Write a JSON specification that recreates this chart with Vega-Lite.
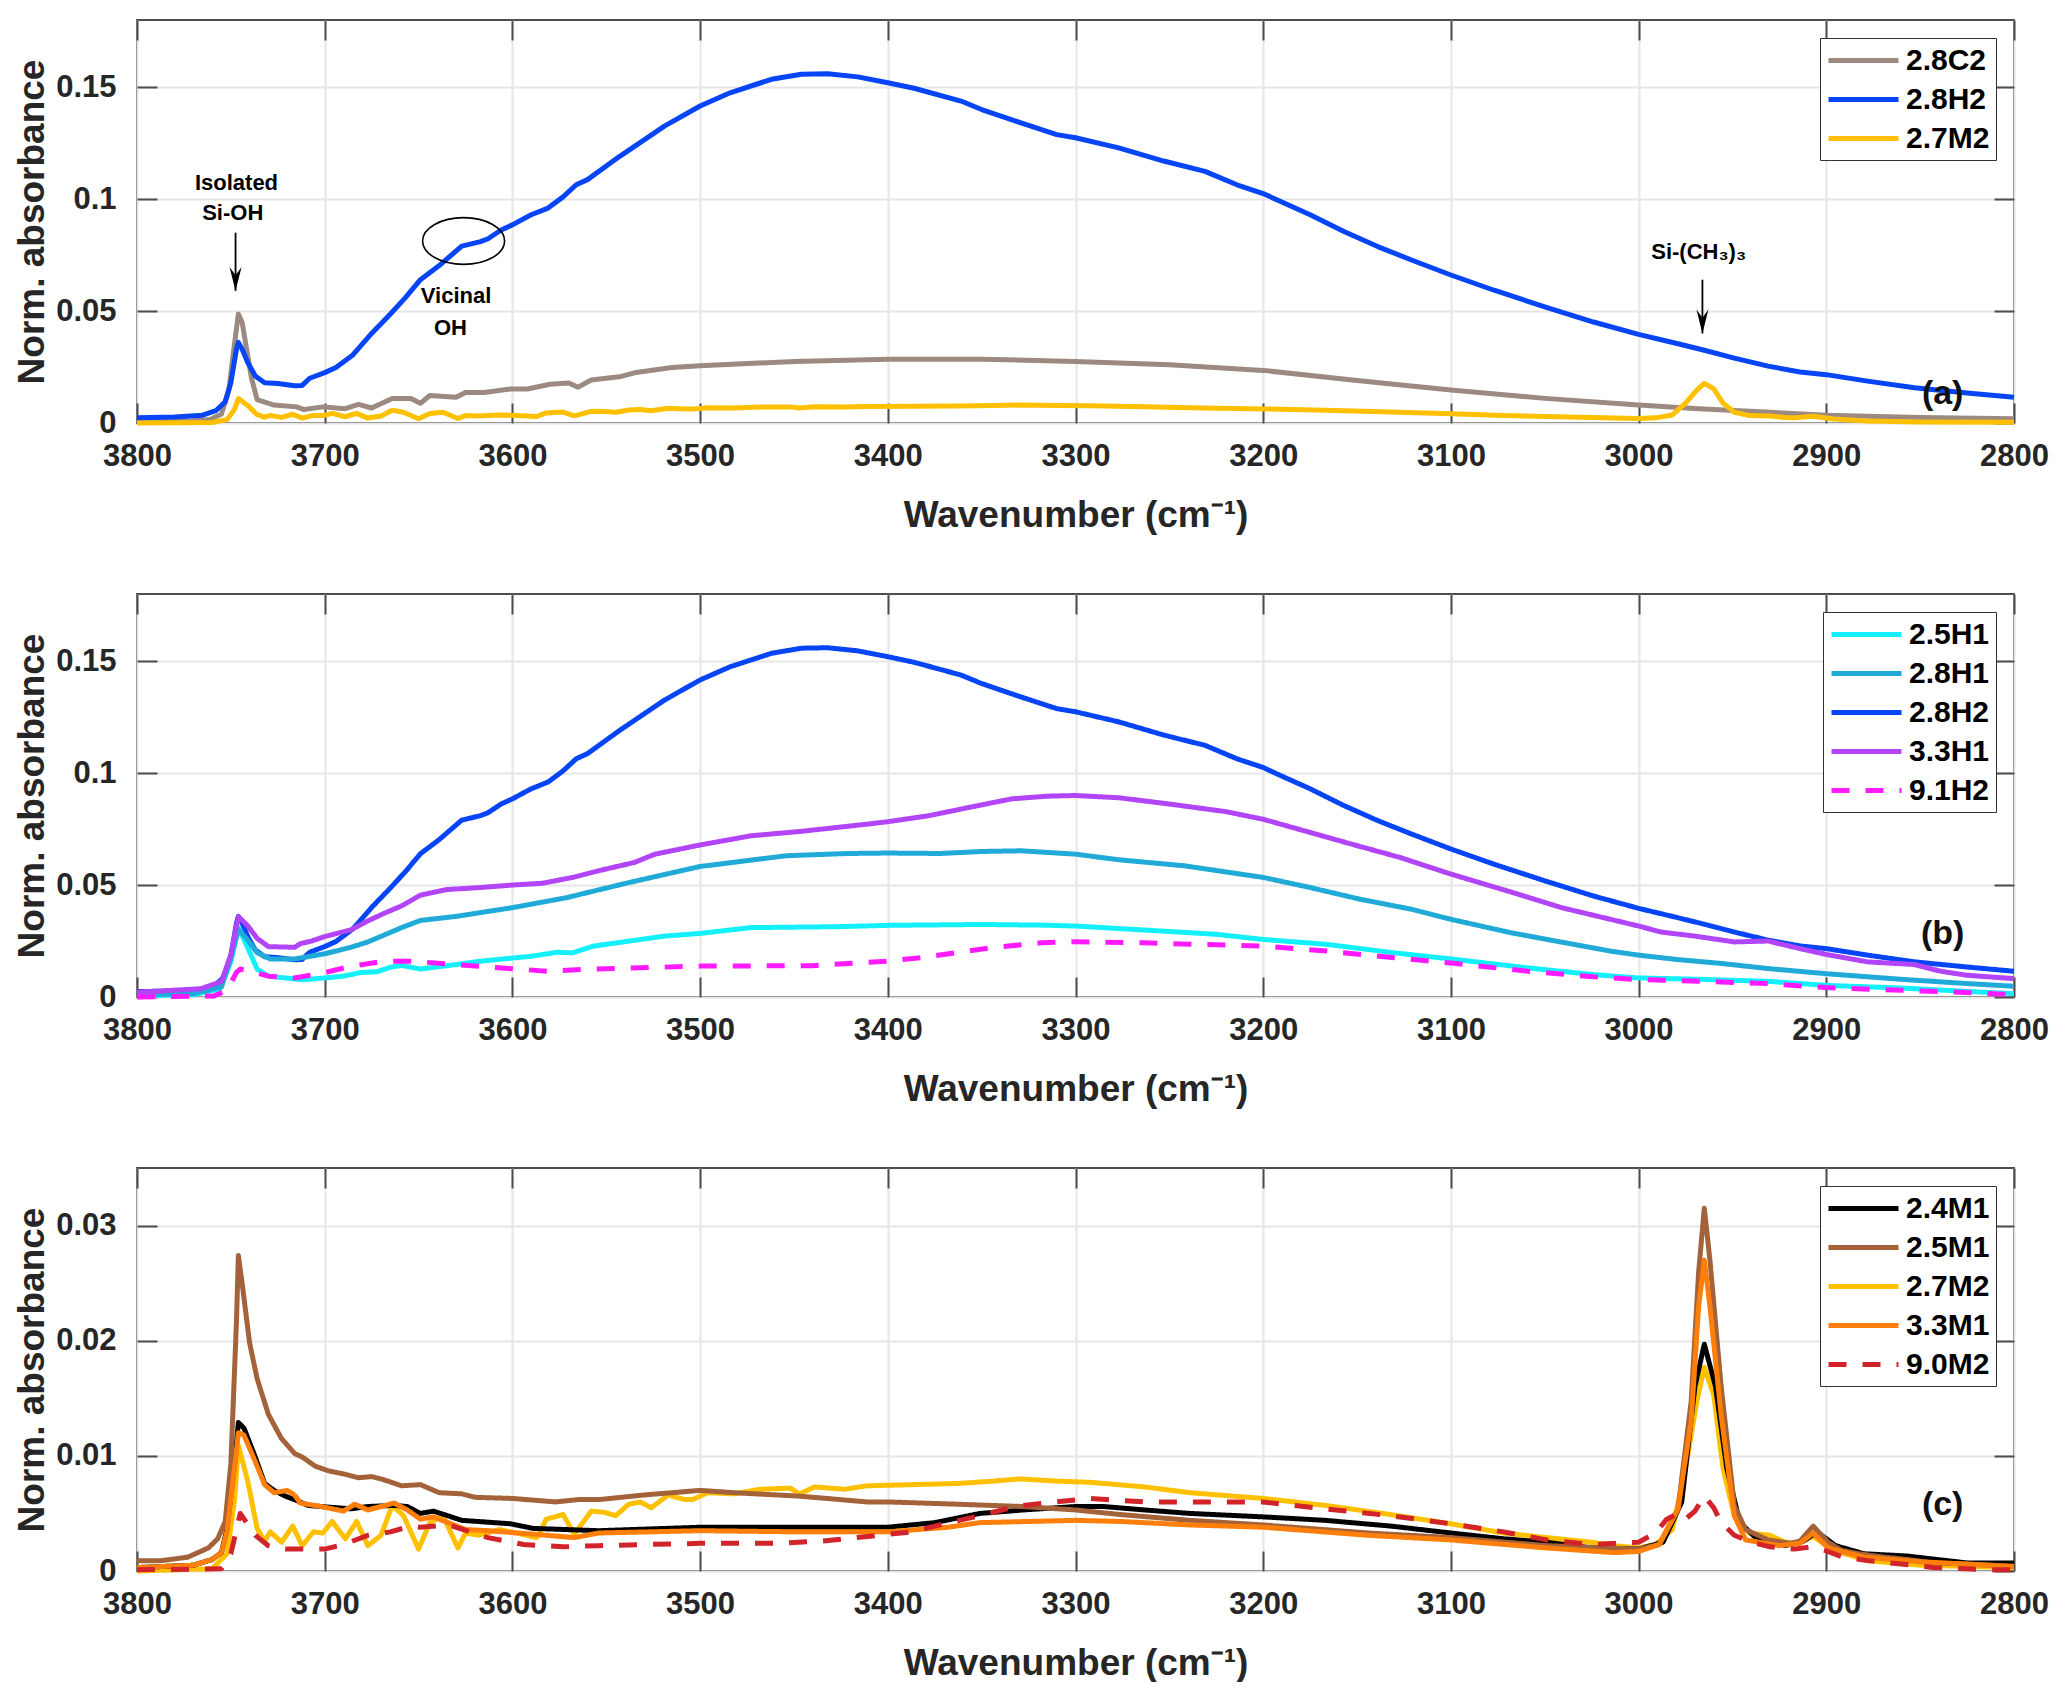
{
  "$schema": "https://vega.github.io/schema/vega-lite/v6.json",
  "background": "white",
  "padding": {"left": 12, "top": 18, "right": 0, "bottom": 0},
  "spacing": 171,
  "bounds": "flush",
  "config": {
    "font": "Liberation Sans",
    "view": {"stroke": "#4d4d4d", "strokeWidth": 2},
    "axis": {
      "domain": false,
      "labelFlush": false,
      "labelFont": "Liberation Sans",
      "labelFontSize": 31,
      "labelFontWeight": "bold",
      "labelColor": "#262626",
      "titleFont": "Liberation Sans",
      "titleFontSize": 37,
      "titleFontWeight": "bold",
      "titleColor": "#262626",
      "tickColor": "#4d4d4d",
      "tickWidth": 2,
      "tickSize": -20,
      "gridColor": "#e6e6e6",
      "gridWidth": 2
    },
    "axisX": {"labelPadding": 38, "titlePadding": 26},
    "axisY": {"labelPadding": 41, "titlePadding": 4},
    "legend": {
      "orient": "top-right",
      "offset": 18,
      "strokeColor": "#333333",
      "fillColor": "white",
      "padding": 6,
      "rowPadding": 7,
      "labelFont": "Liberation Sans",
      "labelFontSize": 30,
      "labelFontWeight": "bold",
      "labelColor": "#000000",
      "symbolType": "M -1 0 H 4",
      "symbolSize": 784,
      "symbolStrokeWidth": 5,
      "labelOffset": 47
    }
  },
  "datasets": {
    "spectra": [
      {"s":"2.8C2","w":3800,"a":0.0004},{"s":"2.8C2","w":3770,"a":0.001},{"s":"2.8C2","w":3761,"a":0.0016},{"s":"2.8C2","w":3755,"a":0.004},{"s":"2.8C2","w":3751,"a":0.015},{"s":"2.8C2","w":3749,"a":0.029},{"s":"2.8C2","w":3746,"a":0.0487},{"s":"2.8C2","w":3744,"a":0.045},{"s":"2.8C2","w":3742,"a":0.035},{"s":"2.8C2","w":3739,"a":0.02},{"s":"2.8C2","w":3736,"a":0.0104},{"s":"2.8C2","w":3727,"a":0.008},{"s":"2.8C2","w":3715,"a":0.0072},{"s":"2.8C2","w":3711,"a":0.006},{"s":"2.8C2","w":3701,"a":0.0072},{"s":"2.8C2","w":3689,"a":0.0064},{"s":"2.8C2","w":3682,"a":0.0083},{"s":"2.8C2","w":3675,"a":0.0067},{"s":"2.8C2","w":3664,"a":0.0109},{"s":"2.8C2","w":3654,"a":0.0109},{"s":"2.8C2","w":3649,"a":0.0088},{"s":"2.8C2","w":3644,"a":0.0123},{"s":"2.8C2","w":3630,"a":0.0115},{"s":"2.8C2","w":3625,"a":0.0136},{"s":"2.8C2","w":3615,"a":0.0136},{"s":"2.8C2","w":3601,"a":0.0152},{"s":"2.8C2","w":3592,"a":0.0152},{"s":"2.8C2","w":3580,"a":0.0173},{"s":"2.8C2","w":3570,"a":0.0179},{"s":"2.8C2","w":3565,"a":0.016},{"s":"2.8C2","w":3558,"a":0.0192},{"s":"2.8C2","w":3542,"a":0.0208},{"s":"2.8C2","w":3535,"a":0.0224},{"s":"2.8C2","w":3515,"a":0.0248},{"s":"2.8C2","w":3500,"a":0.0256},{"s":"2.8C2","w":3450,"a":0.0275},{"s":"2.8C2","w":3400,"a":0.0285},{"s":"2.8C2","w":3350,"a":0.0285},{"s":"2.8C2","w":3300,"a":0.0275},{"s":"2.8C2","w":3250,"a":0.026},{"s":"2.8C2","w":3200,"a":0.0235},{"s":"2.8C2","w":3150,"a":0.019},{"s":"2.8C2","w":3100,"a":0.0147},{"s":"2.8C2","w":3050,"a":0.011},{"s":"2.8C2","w":3000,"a":0.008},{"s":"2.8C2","w":2968,"a":0.0064},{"s":"2.8C2","w":2930,"a":0.0048},{"s":"2.8C2","w":2900,"a":0.0035},{"s":"2.8C2","w":2850,"a":0.0025},{"s":"2.8C2","w":2800,"a":0.0019},

      {"s":"2.8H2","w":3800,"a":0.0024},{"s":"2.8H2","w":3780,"a":0.0027},{"s":"2.8H2","w":3765,"a":0.0035},{"s":"2.8H2","w":3758,"a":0.0055},{"s":"2.8H2","w":3753,"a":0.0095},{"s":"2.8H2","w":3750,"a":0.018},{"s":"2.8H2","w":3747,"a":0.033},{"s":"2.8H2","w":3746,"a":0.036},{"s":"2.8H2","w":3744,"a":0.033},{"s":"2.8H2","w":3741,"a":0.027},{"s":"2.8H2","w":3737,"a":0.021},{"s":"2.8H2","w":3732,"a":0.018},{"s":"2.8H2","w":3725,"a":0.0176},{"s":"2.8H2","w":3716,"a":0.0166},{"s":"2.8H2","w":3712,"a":0.0168},{"s":"2.8H2","w":3708,"a":0.02},{"s":"2.8H2","w":3700,"a":0.0225},{"s":"2.8H2","w":3694,"a":0.0248},{"s":"2.8H2","w":3685,"a":0.0304},{"s":"2.8H2","w":3675,"a":0.04},{"s":"2.8H2","w":3665,"a":0.0487},{"s":"2.8H2","w":3657,"a":0.056},{"s":"2.8H2","w":3649,"a":0.064},{"s":"2.8H2","w":3639,"a":0.0703},{"s":"2.8H2","w":3627,"a":0.079},{"s":"2.8H2","w":3617,"a":0.081},{"s":"2.8H2","w":3613,"a":0.0823},{"s":"2.8H2","w":3606,"a":0.0862},{"s":"2.8H2","w":3600,"a":0.0885},{"s":"2.8H2","w":3590,"a":0.093},{"s":"2.8H2","w":3581,"a":0.096},{"s":"2.8H2","w":3573,"a":0.101},{"s":"2.8H2","w":3566,"a":0.1064},{"s":"2.8H2","w":3560,"a":0.1087},{"s":"2.8H2","w":3543,"a":0.119},{"s":"2.8H2","w":3519,"a":0.1326},{"s":"2.8H2","w":3500,"a":0.1416},{"s":"2.8H2","w":3484,"a":0.1475},{"s":"2.8H2","w":3462,"a":0.1535},{"s":"2.8H2","w":3446,"a":0.1558},{"s":"2.8H2","w":3432,"a":0.156},{"s":"2.8H2","w":3416,"a":0.1546},{"s":"2.8H2","w":3400,"a":0.152},{"s":"2.8H2","w":3386,"a":0.1495},{"s":"2.8H2","w":3361,"a":0.1438},{"s":"2.8H2","w":3350,"a":0.14},{"s":"2.8H2","w":3329,"a":0.134},{"s":"2.8H2","w":3310,"a":0.1288},{"s":"2.8H2","w":3300,"a":0.1274},{"s":"2.8H2","w":3277,"a":0.1229},{"s":"2.8H2","w":3253,"a":0.117},{"s":"2.8H2","w":3231,"a":0.1124},{"s":"2.8H2","w":3214,"a":0.1064},{"s":"2.8H2","w":3200,"a":0.1025},{"s":"2.8H2","w":3191,"a":0.099},{"s":"2.8H2","w":3175,"a":0.093},{"s":"2.8H2","w":3157,"a":0.0855},{"s":"2.8H2","w":3139,"a":0.0788},{"s":"2.8H2","w":3121,"a":0.0728},{"s":"2.8H2","w":3100,"a":0.0661},{"s":"2.8H2","w":3077,"a":0.0593},{"s":"2.8H2","w":3050,"a":0.0519},{"s":"2.8H2","w":3024,"a":0.0451},{"s":"2.8H2","w":3000,"a":0.0396},{"s":"2.8H2","w":2979,"a":0.0354},{"s":"2.8H2","w":2965,"a":0.0325},{"s":"2.8H2","w":2949,"a":0.029},{"s":"2.8H2","w":2931,"a":0.0254},{"s":"2.8H2","w":2914,"a":0.0228},{"s":"2.8H2","w":2900,"a":0.0216},{"s":"2.8H2","w":2878,"a":0.0187},{"s":"2.8H2","w":2853,"a":0.0157},{"s":"2.8H2","w":2825,"a":0.0134},{"s":"2.8H2","w":2800,"a":0.0115},

      {"s":"2.7M2","w":3800,"a":0},{"s":"2.7M2","w":3760,"a":0.0002},{"s":"2.7M2","w":3752,"a":0.0015},{"s":"2.7M2","w":3748,"a":0.0062},{"s":"2.7M2","w":3746,"a":0.0109},{"s":"2.7M2","w":3741,"a":0.0078},{"s":"2.7M2","w":3736,"a":0.0037},{"s":"2.7M2","w":3732,"a":0.0026},{"s":"2.7M2","w":3729,"a":0.0034},{"s":"2.7M2","w":3723,"a":0.0025},{"s":"2.7M2","w":3717,"a":0.0039},{"s":"2.7M2","w":3712,"a":0.0022},{"s":"2.7M2","w":3706,"a":0.0034},{"s":"2.7M2","w":3701,"a":0.0033},{"s":"2.7M2","w":3696,"a":0.0043},{"s":"2.7M2","w":3689,"a":0.0028},{"s":"2.7M2","w":3683,"a":0.0043},{"s":"2.7M2","w":3677,"a":0.0022},{"s":"2.7M2","w":3670,"a":0.0031},{"s":"2.7M2","w":3664,"a":0.0057},{"s":"2.7M2","w":3658,"a":0.0048},{"s":"2.7M2","w":3650,"a":0.0019},{"s":"2.7M2","w":3644,"a":0.0042},{"s":"2.7M2","w":3637,"a":0.0048},{"s":"2.7M2","w":3629,"a":0.002},{"s":"2.7M2","w":3625,"a":0.0033},{"s":"2.7M2","w":3618,"a":0.0031},{"s":"2.7M2","w":3607,"a":0.0036},{"s":"2.7M2","w":3598,"a":0.0033},{"s":"2.7M2","w":3587,"a":0.0029},{"s":"2.7M2","w":3582,"a":0.0045},{"s":"2.7M2","w":3573,"a":0.0049},{"s":"2.7M2","w":3567,"a":0.0032},{"s":"2.7M2","w":3558,"a":0.0052},{"s":"2.7M2","w":3551,"a":0.0051},{"s":"2.7M2","w":3545,"a":0.0048},{"s":"2.7M2","w":3538,"a":0.0058},{"s":"2.7M2","w":3532,"a":0.006},{"s":"2.7M2","w":3526,"a":0.0055},{"s":"2.7M2","w":3517,"a":0.0066},{"s":"2.7M2","w":3508,"a":0.0062},{"s":"2.7M2","w":3504,"a":0.0062},{"s":"2.7M2","w":3496,"a":0.0068},{"s":"2.7M2","w":3482,"a":0.0067},{"s":"2.7M2","w":3468,"a":0.0071},{"s":"2.7M2","w":3452,"a":0.0072},{"s":"2.7M2","w":3447,"a":0.0067},{"s":"2.7M2","w":3439,"a":0.0073},{"s":"2.7M2","w":3423,"a":0.0071},{"s":"2.7M2","w":3411,"a":0.0074},{"s":"2.7M2","w":3387,"a":0.0075},{"s":"2.7M2","w":3363,"a":0.0076},{"s":"2.7M2","w":3344,"a":0.0078},{"s":"2.7M2","w":3330,"a":0.008},{"s":"2.7M2","w":3309,"a":0.0078},{"s":"2.7M2","w":3292,"a":0.0077},{"s":"2.7M2","w":3263,"a":0.0073},{"s":"2.7M2","w":3239,"a":0.0068},{"s":"2.7M2","w":3200,"a":0.0063},{"s":"2.7M2","w":3167,"a":0.0057},{"s":"2.7M2","w":3132,"a":0.0049},{"s":"2.7M2","w":3100,"a":0.0041},{"s":"2.7M2","w":3072,"a":0.0033},{"s":"2.7M2","w":3049,"a":0.0029},{"s":"2.7M2","w":3025,"a":0.0025},{"s":"2.7M2","w":3013,"a":0.0022},{"s":"2.7M2","w":3000,"a":0.002},{"s":"2.7M2","w":2991,"a":0.0023},{"s":"2.7M2","w":2982,"a":0.0036},{"s":"2.7M2","w":2975,"a":0.0089},{"s":"2.7M2","w":2969,"a":0.0147},{"s":"2.7M2","w":2965,"a":0.0177},{"s":"2.7M2","w":2960,"a":0.0153},{"s":"2.7M2","w":2955,"a":0.0089},{"s":"2.7M2","w":2949,"a":0.0048},{"s":"2.7M2","w":2941,"a":0.0033},{"s":"2.7M2","w":2930,"a":0.0031},{"s":"2.7M2","w":2922,"a":0.0025},{"s":"2.7M2","w":2916,"a":0.0024},{"s":"2.7M2","w":2907,"a":0.003},{"s":"2.7M2","w":2896,"a":0.0018},{"s":"2.7M2","w":2878,"a":0.0009},{"s":"2.7M2","w":2850,"a":0.0005},{"s":"2.7M2","w":2800,"a":0.0003},

      {"s":"2.5H1","w":3800,"a":0.0005},{"s":"2.5H1","w":3770,"a":0.001},{"s":"2.5H1","w":3756,"a":0.0037},{"s":"2.5H1","w":3750,"a":0.0158},{"s":"2.5H1","w":3746,"a":0.031},{"s":"2.5H1","w":3741,"a":0.022},{"s":"2.5H1","w":3736,"a":0.0125},{"s":"2.5H1","w":3730,"a":0.0093},{"s":"2.5H1","w":3721,"a":0.0085},{"s":"2.5H1","w":3712,"a":0.0077},{"s":"2.5H1","w":3700,"a":0.0085},{"s":"2.5H1","w":3690,"a":0.0093},{"s":"2.5H1","w":3681,"a":0.0109},{"s":"2.5H1","w":3672,"a":0.0113},{"s":"2.5H1","w":3665,"a":0.0133},{"s":"2.5H1","w":3659,"a":0.0141},{"s":"2.5H1","w":3649,"a":0.0125},{"s":"2.5H1","w":3630,"a":0.0145},{"s":"2.5H1","w":3617,"a":0.016},{"s":"2.5H1","w":3590,"a":0.0182},{"s":"2.5H1","w":3576,"a":0.02},{"s":"2.5H1","w":3568,"a":0.0197},{"s":"2.5H1","w":3557,"a":0.0227},{"s":"2.5H1","w":3519,"a":0.0272},{"s":"2.5H1","w":3500,"a":0.0284},{"s":"2.5H1","w":3473,"a":0.031},{"s":"2.5H1","w":3427,"a":0.0314},{"s":"2.5H1","w":3400,"a":0.032},{"s":"2.5H1","w":3350,"a":0.0324},{"s":"2.5H1","w":3318,"a":0.0321},{"s":"2.5H1","w":3300,"a":0.0317},{"s":"2.5H1","w":3263,"a":0.0299},{"s":"2.5H1","w":3225,"a":0.028},{"s":"2.5H1","w":3200,"a":0.0257},{"s":"2.5H1","w":3166,"a":0.0235},{"s":"2.5H1","w":3130,"a":0.0197},{"s":"2.5H1","w":3100,"a":0.017},{"s":"2.5H1","w":3059,"a":0.013},{"s":"2.5H1","w":3024,"a":0.01},{"s":"2.5H1","w":3000,"a":0.0085},{"s":"2.5H1","w":2967,"a":0.0079},{"s":"2.5H1","w":2931,"a":0.007},{"s":"2.5H1","w":2900,"a":0.0052},{"s":"2.5H1","w":2860,"a":0.004},{"s":"2.5H1","w":2825,"a":0.0025},{"s":"2.5H1","w":2800,"a":0.0015},

      {"s":"2.8H1","w":3800,"a":0.001},{"s":"2.8H1","w":3770,"a":0.0015},{"s":"2.8H1","w":3755,"a":0.0045},{"s":"2.8H1","w":3750,"a":0.0174},{"s":"2.8H1","w":3746,"a":0.0302},{"s":"2.8H1","w":3741,"a":0.0254},{"s":"2.8H1","w":3736,"a":0.0198},{"s":"2.8H1","w":3729,"a":0.017},{"s":"2.8H1","w":3716,"a":0.017},{"s":"2.8H1","w":3700,"a":0.0193},{"s":"2.8H1","w":3686,"a":0.0222},{"s":"2.8H1","w":3677,"a":0.0246},{"s":"2.8H1","w":3668,"a":0.0278},{"s":"2.8H1","w":3659,"a":0.031},{"s":"2.8H1","w":3649,"a":0.0342},{"s":"2.8H1","w":3630,"a":0.036},{"s":"2.8H1","w":3617,"a":0.0377},{"s":"2.8H1","w":3600,"a":0.0399},{"s":"2.8H1","w":3571,"a":0.0444},{"s":"2.8H1","w":3538,"a":0.0511},{"s":"2.8H1","w":3500,"a":0.0583},{"s":"2.8H1","w":3454,"a":0.0631},{"s":"2.8H1","w":3421,"a":0.0641},{"s":"2.8H1","w":3400,"a":0.0643},{"s":"2.8H1","w":3372,"a":0.0641},{"s":"2.8H1","w":3350,"a":0.065},{"s":"2.8H1","w":3329,"a":0.0653},{"s":"2.8H1","w":3300,"a":0.0638},{"s":"2.8H1","w":3277,"a":0.0613},{"s":"2.8H1","w":3242,"a":0.0586},{"s":"2.8H1","w":3200,"a":0.0534},{"s":"2.8H1","w":3175,"a":0.0489},{"s":"2.8H1","w":3148,"a":0.0436},{"s":"2.8H1","w":3121,"a":0.0392},{"s":"2.8H1","w":3100,"a":0.0347},{"s":"2.8H1","w":3068,"a":0.0287},{"s":"2.8H1","w":3041,"a":0.0245},{"s":"2.8H1","w":3015,"a":0.0205},{"s":"2.8H1","w":3000,"a":0.0187},{"s":"2.8H1","w":2979,"a":0.0167},{"s":"2.8H1","w":2956,"a":0.015},{"s":"2.8H1","w":2931,"a":0.0127},{"s":"2.8H1","w":2900,"a":0.0104},{"s":"2.8H1","w":2860,"a":0.0079},{"s":"2.8H1","w":2825,"a":0.006},{"s":"2.8H1","w":2800,"a":0.0048},

      {"s":"3.3H1","w":3800,"a":0.0021},{"s":"3.3H1","w":3766,"a":0.0037},{"s":"3.3H1","w":3755,"a":0.0069},{"s":"3.3H1","w":3750,"a":0.019},{"s":"3.3H1","w":3746,"a":0.0359},{"s":"3.3H1","w":3741,"a":0.0318},{"s":"3.3H1","w":3736,"a":0.0262},{"s":"3.3H1","w":3730,"a":0.0225},{"s":"3.3H1","w":3716,"a":0.0222},{"s":"3.3H1","w":3713,"a":0.0238},{"s":"3.3H1","w":3707,"a":0.025},{"s":"3.3H1","w":3700,"a":0.027},{"s":"3.3H1","w":3686,"a":0.03},{"s":"3.3H1","w":3677,"a":0.034},{"s":"3.3H1","w":3668,"a":0.0375},{"s":"3.3H1","w":3659,"a":0.0407},{"s":"3.3H1","w":3649,"a":0.0455},{"s":"3.3H1","w":3635,"a":0.048},{"s":"3.3H1","w":3617,"a":0.0489},{"s":"3.3H1","w":3600,"a":0.05},{"s":"3.3H1","w":3584,"a":0.0508},{"s":"3.3H1","w":3568,"a":0.0534},{"s":"3.3H1","w":3554,"a":0.0564},{"s":"3.3H1","w":3535,"a":0.0601},{"s":"3.3H1","w":3524,"a":0.0638},{"s":"3.3H1","w":3500,"a":0.0679},{"s":"3.3H1","w":3473,"a":0.072},{"s":"3.3H1","w":3446,"a":0.074},{"s":"3.3H1","w":3410,"a":0.0773},{"s":"3.3H1","w":3400,"a":0.0783},{"s":"3.3H1","w":3378,"a":0.081},{"s":"3.3H1","w":3356,"a":0.0848},{"s":"3.3H1","w":3334,"a":0.0885},{"s":"3.3H1","w":3315,"a":0.0897},{"s":"3.3H1","w":3300,"a":0.09},{"s":"3.3H1","w":3277,"a":0.089},{"s":"3.3H1","w":3250,"a":0.0862},{"s":"3.3H1","w":3220,"a":0.0828},{"s":"3.3H1","w":3200,"a":0.0794},{"s":"3.3H1","w":3175,"a":0.0735},{"s":"3.3H1","w":3153,"a":0.0683},{"s":"3.3H1","w":3127,"a":0.0623},{"s":"3.3H1","w":3100,"a":0.0549},{"s":"3.3H1","w":3068,"a":0.0469},{"s":"3.3H1","w":3041,"a":0.0399},{"s":"3.3H1","w":3015,"a":0.0347},{"s":"3.3H1","w":3000,"a":0.0317},{"s":"3.3H1","w":2988,"a":0.029},{"s":"3.3H1","w":2970,"a":0.0272},{"s":"3.3H1","w":2949,"a":0.0246},{"s":"3.3H1","w":2931,"a":0.025},{"s":"3.3H1","w":2914,"a":0.0216},{"s":"3.3H1","w":2900,"a":0.019},{"s":"3.3H1","w":2878,"a":0.0157},{"s":"3.3H1","w":2853,"a":0.0145},{"s":"3.3H1","w":2839,"a":0.0115},{"s":"3.3H1","w":2825,"a":0.0097},{"s":"3.3H1","w":2800,"a":0.0082},

      {"s":"9.1H2","w":3800,"a":0},{"s":"9.1H2","w":3759,"a":0.0005},{"s":"9.1H2","w":3752,"a":0.003},{"s":"9.1H2","w":3747,"a":0.011},{"s":"9.1H2","w":3745,"a":0.0125},{"s":"9.1H2","w":3737,"a":0.0109},{"s":"9.1H2","w":3730,"a":0.0093},{"s":"9.1H2","w":3716,"a":0.0085},{"s":"9.1H2","w":3700,"a":0.0109},{"s":"9.1H2","w":3686,"a":0.0137},{"s":"9.1H2","w":3668,"a":0.016},{"s":"9.1H2","w":3654,"a":0.016},{"s":"9.1H2","w":3630,"a":0.0145},{"s":"9.1H2","w":3606,"a":0.013},{"s":"9.1H2","w":3581,"a":0.0115},{"s":"9.1H2","w":3562,"a":0.0123},{"s":"9.1H2","w":3500,"a":0.0138},{"s":"9.1H2","w":3440,"a":0.014},{"s":"9.1H2","w":3400,"a":0.016},{"s":"9.1H2","w":3380,"a":0.0178},{"s":"9.1H2","w":3345,"a":0.022},{"s":"9.1H2","w":3318,"a":0.0242},{"s":"9.1H2","w":3300,"a":0.0247},{"s":"9.1H2","w":3263,"a":0.0242},{"s":"9.1H2","w":3200,"a":0.0227},{"s":"9.1H2","w":3166,"a":0.0205},{"s":"9.1H2","w":3130,"a":0.0175},{"s":"9.1H2","w":3100,"a":0.0152},{"s":"9.1H2","w":3059,"a":0.0115},{"s":"9.1H2","w":3024,"a":0.009},{"s":"9.1H2","w":3000,"a":0.0078},{"s":"9.1H2","w":2967,"a":0.007},{"s":"9.1H2","w":2931,"a":0.006},{"s":"9.1H2","w":2900,"a":0.0042},{"s":"9.1H2","w":2860,"a":0.003},{"s":"9.1H2","w":2825,"a":0.002},{"s":"9.1H2","w":2800,"a":0.001},

      {"s":"2.4M1","w":3800,"a":0.0003},{"s":"2.4M1","w":3770,"a":0.0005},{"s":"2.4M1","w":3760,"a":0.001},{"s":"2.4M1","w":3755,"a":0.0016},{"s":"2.4M1","w":3752,"a":0.0037},{"s":"2.4M1","w":3748,"a":0.0093},{"s":"2.4M1","w":3746,"a":0.0129},{"s":"2.4M1","w":3743,"a":0.0124},{"s":"2.4M1","w":3737,"a":0.0099},{"s":"2.4M1","w":3732,"a":0.0076},{"s":"2.4M1","w":3727,"a":0.007},{"s":"2.4M1","w":3721,"a":0.0065},{"s":"2.4M1","w":3716,"a":0.0062},{"s":"2.4M1","w":3709,"a":0.0057},{"s":"2.4M1","w":3702,"a":0.0056},{"s":"2.4M1","w":3686,"a":0.0054},{"s":"2.4M1","w":3677,"a":0.0056},{"s":"2.4M1","w":3663,"a":0.0057},{"s":"2.4M1","w":3656,"a":0.0056},{"s":"2.4M1","w":3649,"a":0.005},{"s":"2.4M1","w":3642,"a":0.0052},{"s":"2.4M1","w":3627,"a":0.0044},{"s":"2.4M1","w":3601,"a":0.0041},{"s":"2.4M1","w":3589,"a":0.0037},{"s":"2.4M1","w":3554,"a":0.0035},{"s":"2.4M1","w":3500,"a":0.0038},{"s":"2.4M1","w":3400,"a":0.0038},{"s":"2.4M1","w":3375,"a":0.0042},{"s":"2.4M1","w":3351,"a":0.005},{"s":"2.4M1","w":3328,"a":0.0053},{"s":"2.4M1","w":3300,"a":0.0056},{"s":"2.4M1","w":3285,"a":0.0056},{"s":"2.4M1","w":3263,"a":0.0053},{"s":"2.4M1","w":3239,"a":0.005},{"s":"2.4M1","w":3200,"a":0.0047},{"s":"2.4M1","w":3167,"a":0.0044},{"s":"2.4M1","w":3132,"a":0.0039},{"s":"2.4M1","w":3100,"a":0.0033},{"s":"2.4M1","w":3072,"a":0.0028},{"s":"2.4M1","w":3049,"a":0.0025},{"s":"2.4M1","w":3025,"a":0.002},{"s":"2.4M1","w":3000,"a":0.0019},{"s":"2.4M1","w":2987,"a":0.0025},{"s":"2.4M1","w":2977,"a":0.006},{"s":"2.4M1","w":2970,"a":0.016},{"s":"2.4M1","w":2965,"a":0.0197},{"s":"2.4M1","w":2959,"a":0.016},{"s":"2.4M1","w":2953,"a":0.0089},{"s":"2.4M1","w":2946,"a":0.0042},{"s":"2.4M1","w":2937,"a":0.0028},{"s":"2.4M1","w":2922,"a":0.0022},{"s":"2.4M1","w":2912,"a":0.0026},{"s":"2.4M1","w":2905,"a":0.0034},{"s":"2.4M1","w":2895,"a":0.0022},{"s":"2.4M1","w":2880,"a":0.0015},{"s":"2.4M1","w":2857,"a":0.0013},{"s":"2.4M1","w":2825,"a":0.0007},{"s":"2.4M1","w":2800,"a":0.0007},

      {"s":"2.5M1","w":3800,"a":0.0009},{"s":"2.5M1","w":3787,"a":0.0009},{"s":"2.5M1","w":3773,"a":0.0012},{"s":"2.5M1","w":3762,"a":0.002},{"s":"2.5M1","w":3757,"a":0.0028},{"s":"2.5M1","w":3753,"a":0.0043},{"s":"2.5M1","w":3750,"a":0.0093},{"s":"2.5M1","w":3747,"a":0.0217},{"s":"2.5M1","w":3746,"a":0.0274},{"s":"2.5M1","w":3744,"a":0.025},{"s":"2.5M1","w":3740,"a":0.0198},{"s":"2.5M1","w":3736,"a":0.0167},{"s":"2.5M1","w":3730,"a":0.0136},{"s":"2.5M1","w":3723,"a":0.0115},{"s":"2.5M1","w":3716,"a":0.0102},{"s":"2.5M1","w":3712,"a":0.0099},{"s":"2.5M1","w":3705,"a":0.0091},{"s":"2.5M1","w":3698,"a":0.0087},{"s":"2.5M1","w":3689,"a":0.0084},{"s":"2.5M1","w":3682,"a":0.0081},{"s":"2.5M1","w":3675,"a":0.0082},{"s":"2.5M1","w":3668,"a":0.0079},{"s":"2.5M1","w":3659,"a":0.0074},{"s":"2.5M1","w":3649,"a":0.0075},{"s":"2.5M1","w":3639,"a":0.0068},{"s":"2.5M1","w":3627,"a":0.0067},{"s":"2.5M1","w":3620,"a":0.0064},{"s":"2.5M1","w":3600,"a":0.0063},{"s":"2.5M1","w":3577,"a":0.006},{"s":"2.5M1","w":3565,"a":0.0062},{"s":"2.5M1","w":3554,"a":0.0062},{"s":"2.5M1","w":3530,"a":0.0066},{"s":"2.5M1","w":3500,"a":0.007},{"s":"2.5M1","w":3482,"a":0.0068},{"s":"2.5M1","w":3447,"a":0.0065},{"s":"2.5M1","w":3411,"a":0.006},{"s":"2.5M1","w":3400,"a":0.006},{"s":"2.5M1","w":3363,"a":0.0058},{"s":"2.5M1","w":3328,"a":0.0056},{"s":"2.5M1","w":3300,"a":0.0053},{"s":"2.5M1","w":3276,"a":0.0049},{"s":"2.5M1","w":3239,"a":0.0044},{"s":"2.5M1","w":3200,"a":0.004},{"s":"2.5M1","w":3144,"a":0.0033},{"s":"2.5M1","w":3100,"a":0.0029},{"s":"2.5M1","w":3049,"a":0.0022},{"s":"2.5M1","w":3000,"a":0.0019},{"s":"2.5M1","w":2989,"a":0.0023},{"s":"2.5M1","w":2979,"a":0.0054},{"s":"2.5M1","w":2972,"a":0.0147},{"s":"2.5M1","w":2968,"a":0.026},{"s":"2.5M1","w":2965,"a":0.0315},{"s":"2.5M1","w":2962,"a":0.027},{"s":"2.5M1","w":2956,"a":0.016},{"s":"2.5M1","w":2949,"a":0.0057},{"s":"2.5M1","w":2943,"a":0.0036},{"s":"2.5M1","w":2931,"a":0.0027},{"s":"2.5M1","w":2919,"a":0.0024},{"s":"2.5M1","w":2914,"a":0.0026},{"s":"2.5M1","w":2907,"a":0.0039},{"s":"2.5M1","w":2899,"a":0.0025},{"s":"2.5M1","w":2892,"a":0.0018},{"s":"2.5M1","w":2883,"a":0.0015},{"s":"2.5M1","w":2869,"a":0.0012},{"s":"2.5M1","w":2857,"a":0.001},{"s":"2.5M1","w":2843,"a":0.0007},{"s":"2.5M1","w":2825,"a":0.0006},{"s":"2.5M1","w":2800,"a":0.0004},

      {"s":"3.3M1","w":3800,"a":0.0003},{"s":"3.3M1","w":3770,"a":0.0005},{"s":"3.3M1","w":3760,"a":0.001},{"s":"3.3M1","w":3755,"a":0.0016},{"s":"3.3M1","w":3752,"a":0.0035},{"s":"3.3M1","w":3748,"a":0.009},{"s":"3.3M1","w":3746,"a":0.012},{"s":"3.3M1","w":3743,"a":0.0118},{"s":"3.3M1","w":3737,"a":0.0095},{"s":"3.3M1","w":3732,"a":0.0075},{"s":"3.3M1","w":3727,"a":0.0068},{"s":"3.3M1","w":3720,"a":0.007},{"s":"3.3M1","w":3716,"a":0.0066},{"s":"3.3M1","w":3713,"a":0.0059},{"s":"3.3M1","w":3702,"a":0.0056},{"s":"3.3M1","w":3690,"a":0.0052},{"s":"3.3M1","w":3684,"a":0.0058},{"s":"3.3M1","w":3677,"a":0.0053},{"s":"3.3M1","w":3670,"a":0.0056},{"s":"3.3M1","w":3663,"a":0.0059},{"s":"3.3M1","w":3656,"a":0.0053},{"s":"3.3M1","w":3649,"a":0.0045},{"s":"3.3M1","w":3642,"a":0.0047},{"s":"3.3M1","w":3625,"a":0.0036},{"s":"3.3M1","w":3613,"a":0.0035},{"s":"3.3M1","w":3589,"a":0.0032},{"s":"3.3M1","w":3567,"a":0.0029},{"s":"3.3M1","w":3554,"a":0.0033},{"s":"3.3M1","w":3500,"a":0.0035},{"s":"3.3M1","w":3447,"a":0.0034},{"s":"3.3M1","w":3400,"a":0.0034},{"s":"3.3M1","w":3368,"a":0.0038},{"s":"3.3M1","w":3351,"a":0.0042},{"s":"3.3M1","w":3300,"a":0.0044},{"s":"3.3M1","w":3276,"a":0.0043},{"s":"3.3M1","w":3239,"a":0.004},{"s":"3.3M1","w":3200,"a":0.0038},{"s":"3.3M1","w":3144,"a":0.0031},{"s":"3.3M1","w":3100,"a":0.0027},{"s":"3.3M1","w":3049,"a":0.002},{"s":"3.3M1","w":3013,"a":0.0016},{"s":"3.3M1","w":3000,"a":0.0017},{"s":"3.3M1","w":2989,"a":0.0023},{"s":"3.3M1","w":2979,"a":0.0054},{"s":"3.3M1","w":2972,"a":0.013},{"s":"3.3M1","w":2968,"a":0.023},{"s":"3.3M1","w":2965,"a":0.027},{"s":"3.3M1","w":2962,"a":0.023},{"s":"3.3M1","w":2956,"a":0.0135},{"s":"3.3M1","w":2949,"a":0.0048},{"s":"3.3M1","w":2943,"a":0.0027},{"s":"3.3M1","w":2925,"a":0.0022},{"s":"3.3M1","w":2914,"a":0.0024},{"s":"3.3M1","w":2907,"a":0.0033},{"s":"3.3M1","w":2899,"a":0.002},{"s":"3.3M1","w":2880,"a":0.0012},{"s":"3.3M1","w":2850,"a":0.0008},{"s":"3.3M1","w":2800,"a":0.0004},

      {"s":"9.0M2","w":3800,"a":0.0001},{"s":"9.0M2","w":3755,"a":0.0002},{"s":"9.0M2","w":3750,"a":0.0015},{"s":"9.0M2","w":3745,"a":0.005},{"s":"9.0M2","w":3737,"a":0.0031},{"s":"9.0M2","w":3730,"a":0.0022},{"s":"9.0M2","w":3721,"a":0.0019},{"s":"9.0M2","w":3709,"a":0.0019},{"s":"9.0M2","w":3700,"a":0.0019},{"s":"9.0M2","w":3690,"a":0.0023},{"s":"9.0M2","w":3677,"a":0.0031},{"s":"9.0M2","w":3665,"a":0.0034},{"s":"9.0M2","w":3654,"a":0.0039},{"s":"9.0M2","w":3649,"a":0.0038},{"s":"9.0M2","w":3634,"a":0.004},{"s":"9.0M2","w":3613,"a":0.0029},{"s":"9.0M2","w":3594,"a":0.0023},{"s":"9.0M2","w":3573,"a":0.0021},{"s":"9.0M2","w":3554,"a":0.0022},{"s":"9.0M2","w":3530,"a":0.0023},{"s":"9.0M2","w":3500,"a":0.0024},{"s":"9.0M2","w":3458,"a":0.0024},{"s":"9.0M2","w":3435,"a":0.0026},{"s":"9.0M2","w":3411,"a":0.003},{"s":"9.0M2","w":3387,"a":0.0034},{"s":"9.0M2","w":3370,"a":0.0041},{"s":"9.0M2","w":3351,"a":0.0048},{"s":"9.0M2","w":3332,"a":0.0056},{"s":"9.0M2","w":3311,"a":0.006},{"s":"9.0M2","w":3292,"a":0.0063},{"s":"9.0M2","w":3263,"a":0.006},{"s":"9.0M2","w":3200,"a":0.006},{"s":"9.0M2","w":3167,"a":0.0054},{"s":"9.0M2","w":3132,"a":0.0048},{"s":"9.0M2","w":3100,"a":0.0041},{"s":"9.0M2","w":3072,"a":0.0034},{"s":"9.0M2","w":3049,"a":0.0027},{"s":"9.0M2","w":3025,"a":0.0023},{"s":"9.0M2","w":3000,"a":0.0025},{"s":"9.0M2","w":2991,"a":0.0033},{"s":"9.0M2","w":2985,"a":0.0045},{"s":"9.0M2","w":2979,"a":0.005},{"s":"9.0M2","w":2975,"a":0.0045},{"s":"9.0M2","w":2970,"a":0.0052},{"s":"9.0M2","w":2965,"a":0.0065},{"s":"9.0M2","w":2960,"a":0.0055},{"s":"9.0M2","w":2956,"a":0.0042},{"s":"9.0M2","w":2949,"a":0.0031},{"s":"9.0M2","w":2940,"a":0.0025},{"s":"9.0M2","w":2930,"a":0.0021},{"s":"9.0M2","w":2917,"a":0.0019},{"s":"9.0M2","w":2908,"a":0.0021},{"s":"9.0M2","w":2901,"a":0.0018},{"s":"9.0M2","w":2891,"a":0.0012},{"s":"9.0M2","w":2878,"a":0.0009},{"s":"9.0M2","w":2860,"a":0.0006},{"s":"9.0M2","w":2843,"a":0.0003},{"s":"9.0M2","w":2811,"a":0.0001},{"s":"9.0M2","w":2800,"a":0.0001}
    ],
    "labelsA": [
      {"w": 3747, "a": 0.107, "t": "Isolated"},
      {"w": 3749, "a": 0.094, "t": "Si-OH"},
      {"w": 3630, "a": 0.0567, "t": "Vicinal"},
      {"w": 3633, "a": 0.0424, "t": "OH"},
      {"w": 2968, "a": 0.0766, "t": "Si-(CH₃)₃"}
    ],
    "arrowsA": [
      {"w": 3747.5, "a": 0.085, "a2": 0.059},
      {"w": 2966, "a": 0.064, "a2": 0.040}
    ],
    "circleA": [{"w": 3626, "a": 0.0813}],
    "tagA": [{"w": 2838, "a": 0.013, "t": "(a)"}],
    "tagB": [{"w": 2838, "a": 0.0282, "t": "(b)"}],
    "tagC": [{"w": 2838, "a": 0.0057, "t": "(c)"}]
  },
  "vconcat": [
    {
      "width": 1877,
      "height": 403,
      "layer": [
        {
          "data": {"name": "spectra"},
          "transform": [{"filter": {"field": "s", "oneOf": ["2.8C2", "2.8H2", "2.7M2"]}}],
          "mark": {"type": "line", "strokeWidth": 5, "strokeJoin": "round"},
          "encoding": {
            "x": {"field": "w", "type": "quantitative",
              "scale": {"domain": [2800, 3800], "reverse": true, "nice": false, "zero": false},
              "axis": {"title": "Wavenumber (cm⁻¹)", "values": [2800, 2900, 3000, 3100, 3200, 3300, 3400, 3500, 3600, 3700, 3800], "format": "d"}},
            "y": {"field": "a", "type": "quantitative",
              "scale": {"domain": [0, 0.18], "nice": false},
              "axis": {"title": "Norm. absorbance", "values": [0, 0.05, 0.1, 0.15], "format": "~g"}},
            "color": {"field": "s", "type": "nominal",
              "scale": {"domain": ["2.8C2", "2.8H2", "2.7M2"], "range": ["#9c8a80", "#0645f5", "#ffc000"]},
              "legend": {"title": null}}
          }
        },
        {
          "data": {"name": "tagA"},
          "mark": {"type": "text", "font": "Liberation Sans", "fontSize": 34, "fontWeight": "bold", "color": "#111111", "align": "center", "baseline": "middle"},
          "encoding": {
            "x": {"field": "w", "type": "quantitative", "axis": {"orient": "top", "labels": false, "grid": false, "title": null, "values": [2800, 2900, 3000, 3100, 3200, 3300, 3400, 3500, 3600, 3700, 3800]}},
            "y": {"field": "a", "type": "quantitative", "axis": {"orient": "right", "labels": false, "grid": false, "title": null, "values": [0, 0.05, 0.1, 0.15]}},
            "text": {"field": "t"}
          }
        },
        {
          "data": {"name": "labelsA"},
          "mark": {"type": "text", "font": "Liberation Sans", "fontSize": 22, "fontWeight": "bold", "color": "#000000", "align": "center", "baseline": "middle"},
          "encoding": {
            "x": {"field": "w", "type": "quantitative", "axis": null},
            "y": {"field": "a", "type": "quantitative", "axis": null},
            "text": {"field": "t"}
          }
        },
        {
          "data": {"name": "arrowsA"},
          "mark": {"type": "rule", "color": "#000000", "strokeWidth": 1.8},
          "encoding": {
            "x": {"field": "w", "type": "quantitative", "axis": null},
            "y": {"field": "a", "type": "quantitative", "axis": null},
            "y2": {"field": "a2"}
          }
        },
        {
          "data": {"name": "arrowsA"},
          "mark": {"type": "point", "shape": "M -0.5 -2 L 0 0 L 0.5 -2 L 0 -1.3 Z", "size": 576, "filled": true, "color": "#000000", "opacity": 1},
          "encoding": {
            "x": {"field": "w", "type": "quantitative", "axis": null},
            "y": {"field": "a2", "type": "quantitative", "axis": null}
          }
        },
        {
          "data": {"name": "circleA"},
          "mark": {"type": "point", "shape": "M -1 0 A 1 0.57 0 1 0 1 0 A 1 0.57 0 1 0 -1 0 Z", "size": 6724, "filled": false, "color": "#000000", "strokeWidth": 1.6, "opacity": 1},
          "encoding": {
            "x": {"field": "w", "type": "quantitative", "axis": null},
            "y": {"field": "a", "type": "quantitative", "axis": null}
          }
        }
      ],
      "resolve": {"axis": {"x": "independent", "y": "independent"}}
    },
    {
      "width": 1877,
      "height": 403,
      "layer": [
        {
          "data": {"name": "spectra"},
          "transform": [{"filter": {"field": "s", "oneOf": ["2.5H1", "2.8H1", "2.8H2", "3.3H1", "9.1H2"]}}],
          "mark": {"type": "line", "strokeWidth": 5, "strokeJoin": "round"},
          "encoding": {
            "x": {"field": "w", "type": "quantitative",
              "scale": {"domain": [2800, 3800], "reverse": true, "nice": false, "zero": false},
              "axis": {"title": "Wavenumber (cm⁻¹)", "values": [2800, 2900, 3000, 3100, 3200, 3300, 3400, 3500, 3600, 3700, 3800], "format": "d"}},
            "y": {"field": "a", "type": "quantitative",
              "scale": {"domain": [0, 0.18], "nice": false},
              "axis": {"title": "Norm. absorbance", "values": [0, 0.05, 0.1, 0.15], "format": "~g"}},
            "color": {"field": "s", "type": "nominal",
              "scale": {"domain": ["2.5H1", "2.8H1", "2.8H2", "3.3H1", "9.1H2"], "range": ["#14f0fa", "#20aad8", "#0645f5", "#b245f7", "#ff1aff"]},
              "legend": {"title": null}},
            "strokeDash": {"field": "s", "type": "nominal",
              "scale": {"domain": ["2.5H1", "2.8H1", "2.8H2", "3.3H1", "9.1H2"], "range": [[1, 0], [1, 0], [1, 0], [1, 0], [18, 16]]},
              "legend": {"title": null}}
          }
        },
        {
          "data": {"name": "tagB"},
          "mark": {"type": "text", "font": "Liberation Sans", "fontSize": 34, "fontWeight": "bold", "color": "#111111", "align": "center", "baseline": "middle"},
          "encoding": {
            "x": {"field": "w", "type": "quantitative", "axis": {"orient": "top", "labels": false, "grid": false, "title": null, "values": [2800, 2900, 3000, 3100, 3200, 3300, 3400, 3500, 3600, 3700, 3800]}},
            "y": {"field": "a", "type": "quantitative", "axis": {"orient": "right", "labels": false, "grid": false, "title": null, "values": [0, 0.05, 0.1, 0.15]}},
            "text": {"field": "t"}
          }
        }
      ],
      "resolve": {"axis": {"x": "independent", "y": "independent"}}
    },
    {
      "width": 1877,
      "height": 403,
      "layer": [
        {
          "data": {"name": "spectra"},
          "transform": [{"filter": {"field": "s", "oneOf": ["2.4M1", "2.5M1", "2.7M2", "3.3M1", "9.0M2"]}}],
          "mark": {"type": "line", "strokeWidth": 5, "strokeJoin": "round"},
          "encoding": {
            "x": {"field": "w", "type": "quantitative",
              "scale": {"domain": [2800, 3800], "reverse": true, "nice": false, "zero": false},
              "axis": {"title": "Wavenumber (cm⁻¹)", "values": [2800, 2900, 3000, 3100, 3200, 3300, 3400, 3500, 3600, 3700, 3800], "format": "d"}},
            "y": {"field": "a", "type": "quantitative",
              "scale": {"domain": [0, 0.035], "nice": false},
              "axis": {"title": "Norm. absorbance", "values": [0, 0.01, 0.02, 0.03], "format": "~g"}},
            "color": {"field": "s", "type": "nominal",
              "scale": {"domain": ["2.4M1", "2.5M1", "2.7M2", "3.3M1", "9.0M2"], "range": ["#000000", "#a3623a", "#ffc000", "#ff7f0a", "#d2232a"]},
              "legend": {"title": null}},
            "strokeDash": {"field": "s", "type": "nominal",
              "scale": {"domain": ["2.4M1", "2.5M1", "2.7M2", "3.3M1", "9.0M2"], "range": [[1, 0], [1, 0], [1, 0], [1, 0], [18, 16]]},
              "legend": {"title": null}}
          }
        },
        {
          "data": {"name": "tagC"},
          "mark": {"type": "text", "font": "Liberation Sans", "fontSize": 34, "fontWeight": "bold", "color": "#111111", "align": "center", "baseline": "middle"},
          "encoding": {
            "x": {"field": "w", "type": "quantitative", "axis": {"orient": "top", "labels": false, "grid": false, "title": null, "values": [2800, 2900, 3000, 3100, 3200, 3300, 3400, 3500, 3600, 3700, 3800]}},
            "y": {"field": "a", "type": "quantitative", "axis": {"orient": "right", "labels": false, "grid": false, "title": null, "values": [0, 0.01, 0.02, 0.03]}},
            "text": {"field": "t"}
          }
        }
      ],
      "resolve": {"axis": {"x": "independent", "y": "independent"}}
    }
  ],
  "resolve": {
    "scale": {"color": "independent", "strokeDash": "independent"},
    "legend": {"color": "independent", "strokeDash": "independent"}
  }
}
